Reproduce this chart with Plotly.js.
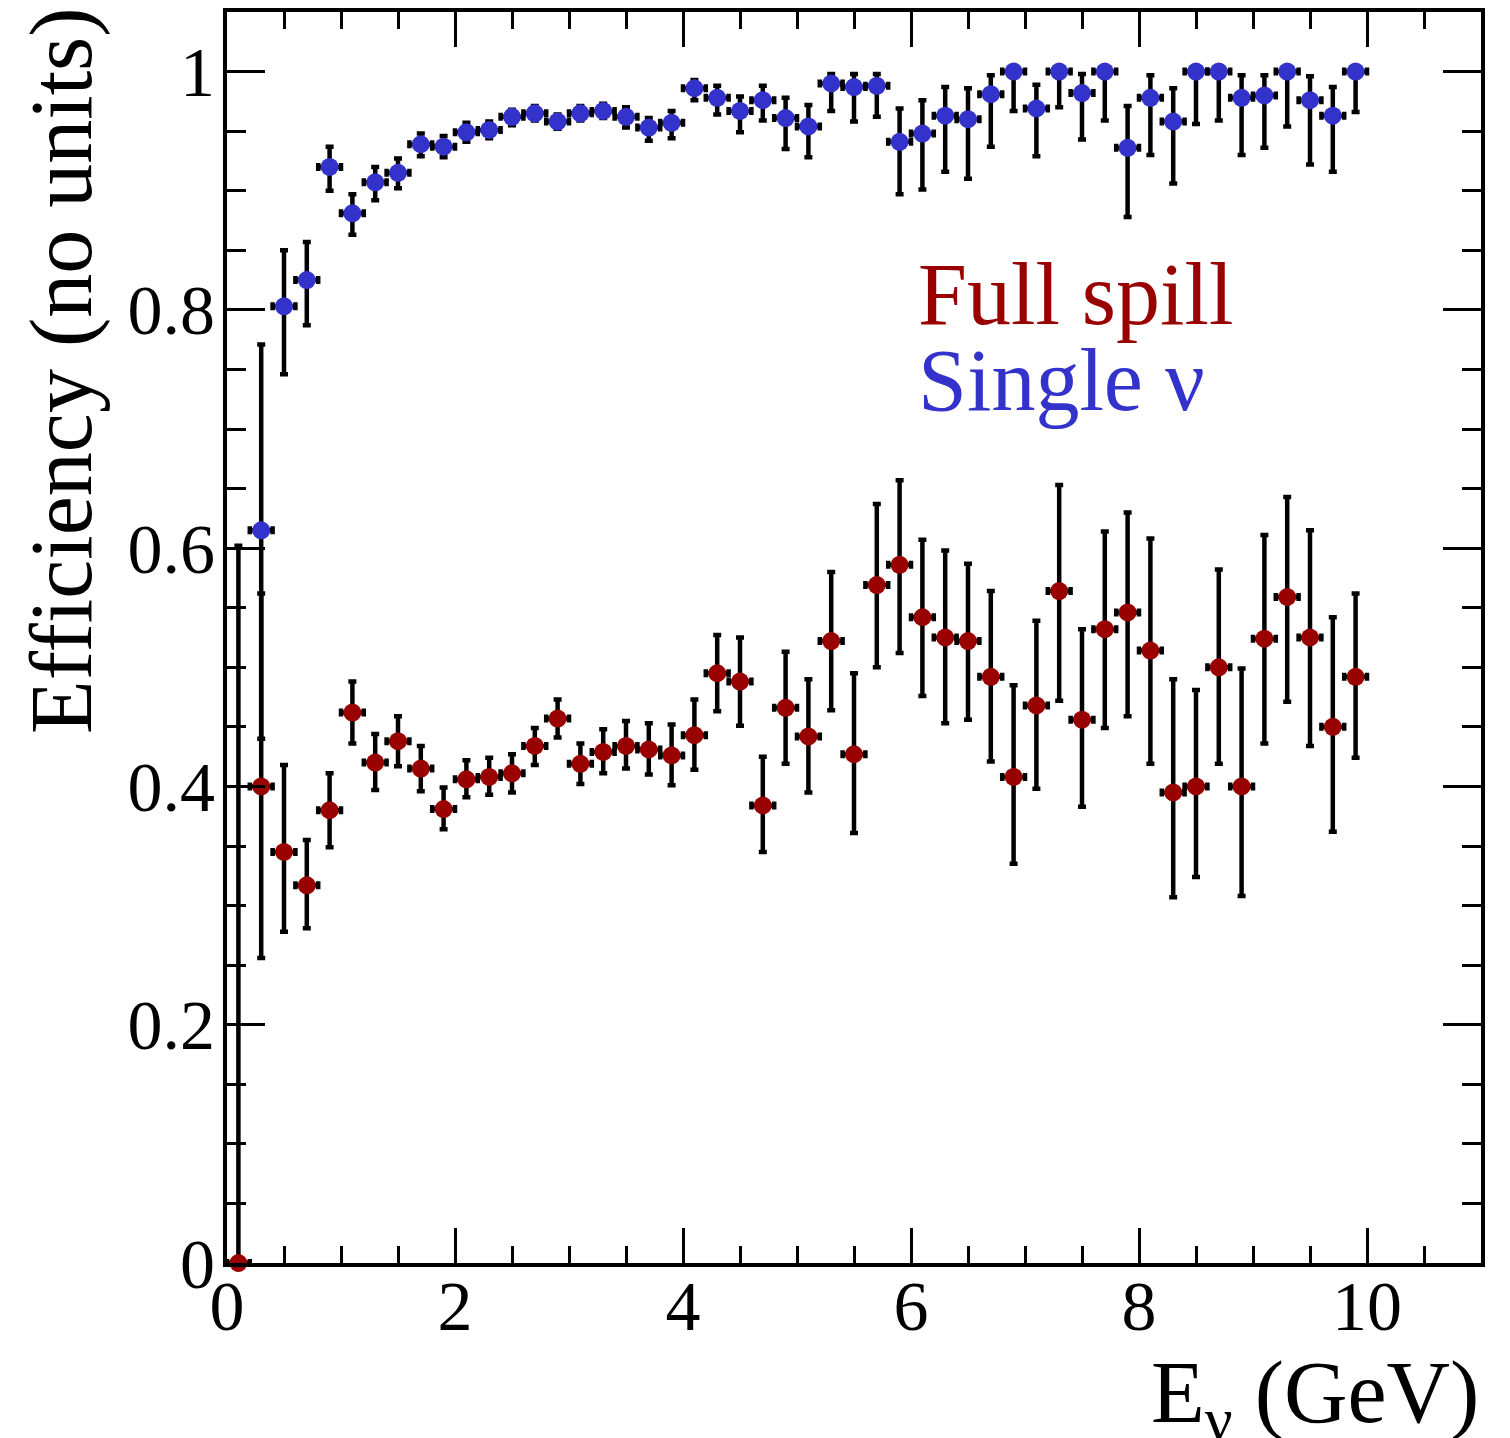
<!DOCTYPE html>
<html>
<head>
<meta charset="utf-8">
<script src="https://cdn.plot.ly/plotly-3.0.1.min.js"></script>
<style>
html, body { margin: 0; padding: 0; background: #ffffff; }
#chart { width: 1510px; height: 1438px; }
</style>
</head>
<body>
<div id="chart"></div>
<script>
// Bin centres of E_nu (GeV)
const energy = [0.1,0.3,0.5,0.7,0.9,1.1,1.3,1.5,1.7,1.9,
                2.1,2.3,2.5,2.7,2.9,3.1,3.3,3.5,3.7,3.9,
                4.1,4.3,4.5,4.7,4.9,5.1,5.3,5.5,5.7,5.9,
                6.1,6.3,6.5,6.7,6.9,7.1,7.3,7.5,7.7,7.9,
                8.1,8.3,8.5,8.7,8.9,9.1,9.3,9.5,9.7,9.9];
const binHalfWidth = [0.1,0.1,0.1,0.1,0.1,0.1,0.1,0.1,0.1,0.1,
                      0.1,0.1,0.1,0.1,0.1,0.1,0.1,0.1,0.1,0.1,
                      0.1,0.1,0.1,0.1,0.1,0.1,0.1,0.1,0.1,0.1,
                      0.1,0.1,0.1,0.1,0.1,0.1,0.1,0.1,0.1,0.1,
                      0.1,0.1,0.1,0.1,0.1,0.1,0.1,0.1,0.1,0.1];

// Single nu efficiency
const singleEff = [null,0.615,0.803,0.825,0.920,0.881,0.907,0.915,0.939,0.937,
                   0.949,0.951,0.962,0.965,0.958,0.965,0.967,0.962,0.953,0.957,
                   0.986,0.978,0.967,0.976,0.961,0.954,0.990,0.987,0.988,0.941,
                   0.948,0.963,0.960,0.981,1.000,0.969,1.000,0.982,1.000,0.936,
                   0.978,0.958,1.000,1.000,0.978,0.980,1.000,0.976,0.963,1.000];
const singleErrUp = [0,0.156,0.047,0.032,0.017,0.016,0.013,0.012,0.009,0.009,
                     0.008,0.007,0.006,0.006,0.006,0.006,0.006,0.008,0.008,0.010,
                     0.007,0.010,0.012,0.012,0.017,0.018,0.008,0.011,0.010,0.028,
                     0.028,0.024,0.026,0.016,0.000,0.020,0.000,0.016,0.000,0.035,
                     0.019,0.028,0.000,0.000,0.019,0.017,0.000,0.020,0.024,0.000];
const singleErrDown = [0,0.175,0.057,0.038,0.020,0.018,0.015,0.013,0.010,0.009,
                       0.008,0.007,0.007,0.006,0.006,0.006,0.006,0.009,0.011,0.013,
                       0.010,0.014,0.018,0.017,0.026,0.026,0.023,0.029,0.026,0.044,
                       0.047,0.047,0.050,0.044,0.033,0.040,0.030,0.039,0.041,0.058,
                       0.048,0.052,0.044,0.041,0.048,0.044,0.046,0.054,0.047,0.034];

// Full spill efficiency
const fullEff = [0.000,0.400,0.345,0.317,0.380,0.462,0.420,0.438,0.415,0.381,
                 0.406,0.408,0.411,0.434,0.457,0.419,0.429,0.434,0.431,0.426,
                 0.443,0.495,0.488,0.384,0.466,0.442,0.522,0.427,0.569,0.586,
                 0.542,0.525,0.522,0.492,0.408,0.468,0.564,0.456,0.532,0.546,
                 0.514,0.395,0.400,0.500,0.400,0.524,0.559,0.525,0.450,0.492];
const fullErrUp = [0.602,0.162,0.073,0.038,0.031,0.026,0.024,0.021,0.019,0.018,
                   0.016,0.016,0.016,0.015,0.016,0.017,0.019,0.021,0.022,0.026,
                   0.030,0.032,0.037,0.041,0.047,0.048,0.058,0.068,0.068,0.071,
                   0.065,0.073,0.065,0.072,0.077,0.071,0.089,0.076,0.082,0.084,
                   0.094,0.095,0.081,0.082,0.099,0.087,0.084,0.090,0.092,0.070];
const fullErrDown = [0.000,0.144,0.067,0.036,0.031,0.026,0.023,0.021,0.019,0.017,
                     0.015,0.015,0.016,0.016,0.016,0.017,0.018,0.019,0.021,0.025,
                     0.029,0.032,0.037,0.039,0.047,0.047,0.058,0.066,0.069,0.074,
                     0.066,0.072,0.066,0.071,0.073,0.070,0.092,0.073,0.083,0.087,
                     0.095,0.088,0.076,0.081,0.092,0.088,0.088,0.091,0.088,0.068];

const xTickVals = [0,2,4,6,8,10];
const xTickText = ["0","2","4","6","8","10"];
const yTickVals = [0,0.2,0.4,0.6,0.8,1];
const yTickText = ["0","0.2","0.4","0.6","0.8","1"];

const RED = "#990000";
const BLUE = "#3333cc";
const FONT = "Liberation Serif, Times New Roman, serif";

function errStyle(up, down) {
  return {type: "data", symmetric: false, array: up, arrayminus: down,
          color: "#000000", thickness: 4.5, width: 4, visible: true};
}

const traces = [
  {
    x: energy, y: singleEff, type: "scatter", mode: "markers", name: "Single ν",
    marker: {color: BLUE, size: 18, symbol: "circle", line: {width: 0}},
    error_y: errStyle(singleErrUp, singleErrDown),
    error_x: {type: "data", array: binHalfWidth, color: "#000000", thickness: 4.5, width: 4, visible: true},
    cliponaxis: false
  },
  {
    x: energy, y: fullEff, type: "scatter", mode: "markers", name: "Full spill",
    marker: {color: RED, size: 18, symbol: "circle", line: {width: 0}},
    error_y: errStyle(fullErrUp, fullErrDown),
    error_x: {type: "data", array: binHalfWidth, color: "#000000", thickness: 4.5, width: 4, visible: true},
    cliponaxis: false
  }
];

const layout = {
  width: 1510, height: 1438,
  margin: {l: 227, r: 29, t: 12, b: 175, pad: 0},
  paper_bgcolor: "#ffffff", plot_bgcolor: "#ffffff",
  showlegend: false,
  font: {family: FONT, color: "#000000", size: 70},
  xaxis: {
    range: [0, 11], tickmode: "array", tickvals: xTickVals, ticktext: xTickText,
    ticks: "inside", ticklen: 35, tickwidth: 3, tickcolor: "#000000",
    minor: {dtick: 0.5, tick0: 0, ticks: "inside", ticklen: 17, tickwidth: 3, tickcolor: "#000000", showgrid: false},
    showline: true, linewidth: 4, linecolor: "#000000", mirror: "allticks",
    showgrid: false, zeroline: false, ticklabelstandoff: -21,
    tickfont: {family: FONT, size: 70, color: "#000000"}
  },
  yaxis: {
    range: [0, 1.05], tickmode: "array", tickvals: yTickVals, ticktext: yTickText,
    ticks: "inside", ticklen: 38, tickwidth: 3, tickcolor: "#000000",
    minor: {dtick: 0.05, tick0: 0, ticks: "inside", ticklen: 19, tickwidth: 3, tickcolor: "#000000", showgrid: false},
    showline: true, linewidth: 4, linecolor: "#000000", mirror: "allticks",
    showgrid: false, zeroline: false, ticklabelstandoff: -6,
    tickfont: {family: FONT, size: 70, color: "#000000"}
  },
  annotations: [
    {text: "Efficiency (no units)", textangle: -90, xref: "paper", yref: "paper",
     x: -0.1316, y: 1.006, xanchor: "center", yanchor: "top", showarrow: false,
     font: {family: FONT, size: 88, color: "#000000"}},
    {text: "E<sub>ν</sub> (GeV)", xref: "paper", yref: "paper",
     x: 1.0, y: -0.1536, xanchor: "right", yanchor: "bottom", showarrow: false,
     font: {family: FONT, size: 88, color: "#000000"}},
    {text: "Full spill", xref: "paper", yref: "paper",
     x: (916 - 227) / 1254, y: (1263 - 294) / 1251, xanchor: "left", yanchor: "middle", showarrow: false,
     font: {family: FONT, size: 88, color: RED}},
    {text: "Single ν", xref: "paper", yref: "paper",
     x: (916 - 227) / 1254, y: (1263 - 380) / 1251, xanchor: "left", yanchor: "middle", showarrow: false,
     font: {family: FONT, size: 88, color: BLUE}}
  ]
};

Plotly.newPlot("chart", traces, layout, {displayModeBar: false, staticPlot: true});
</script>
</body>
</html>
